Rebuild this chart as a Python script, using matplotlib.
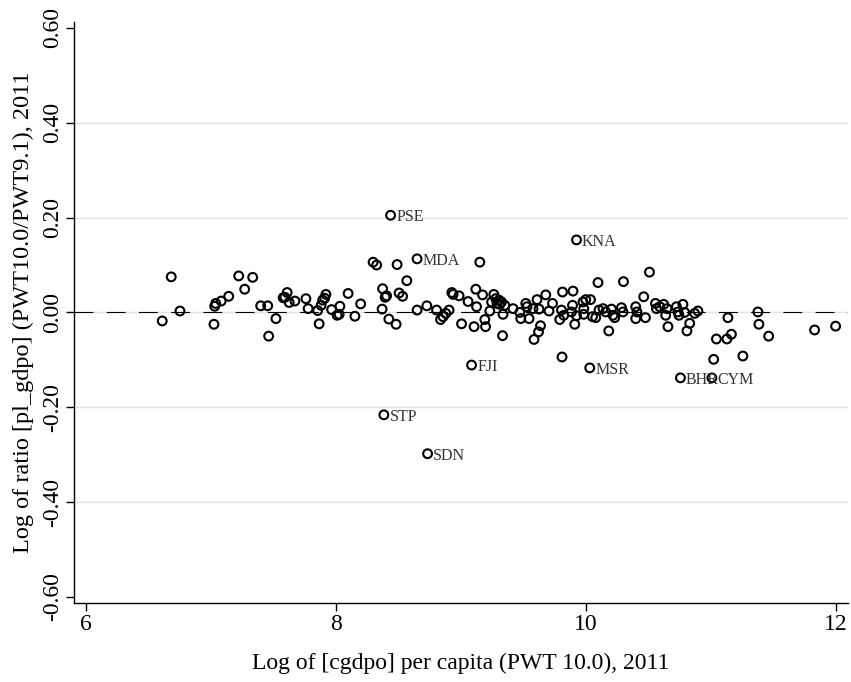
import matplotlib
matplotlib.use("Agg")
import matplotlib.pyplot as plt

# log gdp per capita (PWT 10.0) and log price-level ratio, 2011
gdp_pc = [
    6.610, 6.682, 6.752, 7.024, 7.030, 7.038, 7.082, 7.142, 7.222, 7.270,
    7.334, 7.398, 7.454, 7.462, 7.520, 7.578, 7.610, 7.592, 7.626, 7.672,
    7.760, 7.778, 7.854, 7.866, 7.882, 7.894, 7.910, 7.920, 7.966, 8.010,
    8.026, 8.032, 8.098, 8.152, 8.198, 8.298, 8.326, 8.374, 8.370, 8.394,
    8.406, 8.424, 8.482, 8.490, 8.506, 8.534, 8.568, 8.650, 8.728, 8.806,
    8.838, 8.858, 8.880, 8.906, 8.928, 8.938, 8.986, 9.006, 9.058, 9.106,
    9.120, 9.126, 9.152, 9.174, 9.192, 9.198, 9.232, 9.246, 9.264, 9.280,
    9.290, 9.306, 9.312, 9.326, 9.338, 9.352, 9.334, 9.418, 9.472, 9.480,
    9.520, 9.530, 9.546, 9.578, 9.610, 9.626, 9.638, 9.622, 9.586, 9.680,
    9.706, 9.734, 9.810, 9.792, 9.806, 9.814, 9.898, 9.824, 9.894, 9.886,
    9.912, 9.926, 9.978, 10.000, 10.038, 9.984, 9.984, 10.054, 10.080, 10.098,
    10.106, 10.138, 10.160, 10.184, 10.206, 10.218, 10.232, 10.286, 10.298, 10.302,
    10.400, 10.410, 10.400, 10.464, 10.478, 10.510, 10.558, 10.566, 10.592, 10.624,
    10.640, 10.650, 10.658, 10.726, 10.738, 10.746, 10.778, 10.792, 10.810, 10.832,
    10.872, 10.898, 11.138, 11.166, 11.130, 11.046, 11.024, 11.258, 11.378, 11.386,
    11.464, 11.832, 12.000,
]
log_ratio = [
    -0.018, 0.075, 0.003, -0.025, 0.013, 0.019, 0.024, 0.034, 0.077, 0.049,
    0.074, 0.014, 0.014, -0.050, -0.013, 0.031, 0.042, 0.032, 0.021, 0.024,
    0.029, 0.008, 0.004, -0.024, 0.015, 0.026, 0.030, 0.038, 0.006, -0.006,
    -0.004, 0.013, 0.040, -0.008, 0.018, 0.106, 0.100, 0.050, 0.007, 0.032,
    0.035, -0.014, -0.025, 0.101, 0.041, 0.034, 0.067, 0.005, 0.014, 0.005,
    -0.015, -0.009, -0.002, 0.005, 0.042, 0.038, 0.035, -0.024, 0.023, -0.030,
    0.049, 0.012, 0.106, 0.037, -0.015, -0.030, 0.003, 0.022, 0.038, 0.029,
    0.019, 0.026, 0.017, 0.022, -0.004, 0.015, -0.049, 0.008, 0.000, -0.013,
    0.019, 0.012, -0.013, 0.008, 0.027, 0.007, -0.028, -0.041, -0.057, 0.037,
    0.003, 0.019, -0.094, -0.015, 0.005, 0.043, 0.045, -0.006, 0.015, 0.001,
    -0.025, -0.007, 0.022, 0.027, 0.027, 0.008, -0.004, -0.009, -0.011, 0.063,
    0.005, 0.008, 0.001, -0.039, 0.007, -0.006, -0.011, 0.010, 0.001, 0.065,
    0.012, 0.001, -0.013, 0.033, -0.011, 0.085, 0.019, 0.008, 0.012, 0.017,
    -0.006, 0.008, -0.030, 0.012, 0.001, -0.006, 0.017, 0.000, -0.039, -0.023,
    -0.002, 0.003, -0.011, -0.046, -0.056, -0.056, -0.099, -0.092, 0.001, -0.025,
    -0.050, -0.037, -0.029,
]

# labelled outliers
codes = ["PSE", "KNA", "MDA", "FJI", "MSR", "BHR", "CYM", "STP", "SDN"]
codes_x = [8.438, 9.926, 8.650, 9.086, 10.032, 10.758, 11.010, 8.384, 8.734]
codes_y = [0.205, 0.153, 0.113, -0.111, -0.117, -0.138, -0.138, -0.216, -0.298]

xticks = [6, 8, 10, 12]
yticks = [-0.6, -0.4, -0.2, 0.0, 0.2, 0.4, 0.6]

plt.rcParams["font.family"] = ["Liberation Serif", "DejaVu Serif"]

fig = plt.figure(figsize=(8.51, 6.82), dpi=100)
ax = fig.add_axes([0.087, 0.116, 0.909, 0.852])

# grid lines
for yv in yticks[1:-1]:
    ax.axhline(yv, color="#e3e3e3", lw=1.0, zorder=0)
ax.axhline(0, color="black", lw=0.8, dashes=(17, 12), zorder=1)

ax.scatter(gdp_pc + codes_x, log_ratio + codes_y, s=40, facecolors="none",
           edgecolors="black", linewidths=1.5, zorder=3)

for c, xv, yv in zip(codes, codes_x, codes_y):
    ax.annotate(c, (xv, yv), xytext=(4, -1.5), textcoords="offset points",
                ha="left", va="center", fontsize=11.5, color="#333333")

ax.set_xlim(5.904, 12.096)
ax.set_ylim(-0.6127, 0.613)
ax.set_xticks(xticks)
ax.set_xticklabels([str(t) for t in xticks])
ax.set_yticks(yticks)
ax.set_yticklabels(["%.2f" % t for t in yticks], rotation=90, va="center")
ax.tick_params(axis="both", direction="out", length=6, width=1, labelsize=17,
               color="black")
ax.tick_params(axis="x", pad=2)
ax.tick_params(axis="y", pad=2)

ax.spines["top"].set_visible(False)
ax.spines["right"].set_visible(False)
ax.spines["left"].set_linewidth(1)
ax.spines["bottom"].set_linewidth(1)

ax.set_xlabel("Log of [cgdpo] per capita (PWT 10.0), 2011", fontsize=17, labelpad=13)
ax.set_ylabel("Log of ratio [pl_gdpo] (PWT10.0/PWT9.1), 2011", fontsize=17.5, labelpad=6)

fig.savefig("out.png", dpi=100)
